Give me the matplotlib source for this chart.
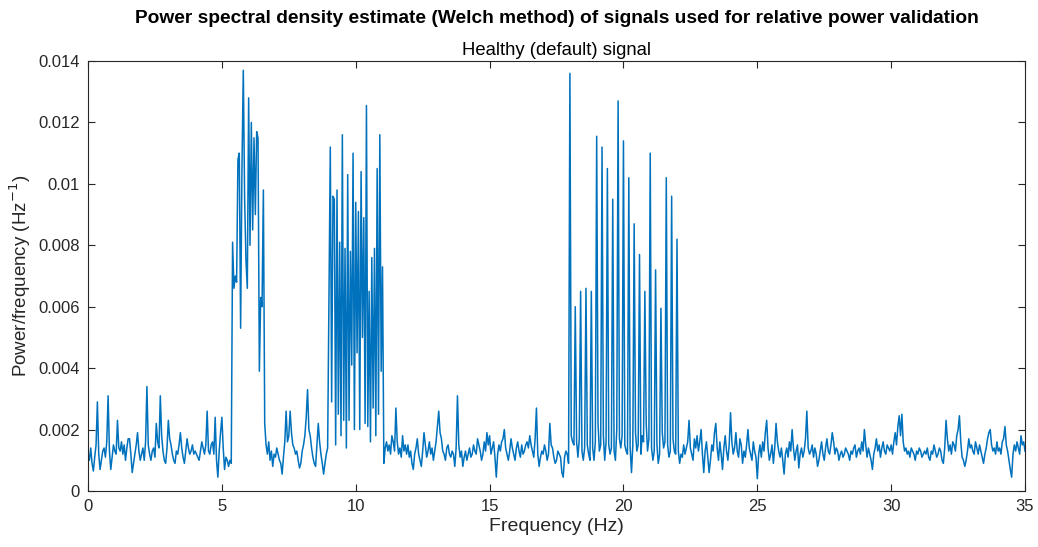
import numpy as np
import matplotlib
matplotlib.use("Agg")
import matplotlib.pyplot as plt

# PSD values, in units of 1e-3 Hz^-1,
# sampled every 0.05 Hz; one row = 1 Hz
df = 0.05
psd_0_5 = [
    1.2, 1.0, 1.4, 0.9, 0.65, 1.1, 1.5, 2.9, 1.2, 0.7, 1.0, 1.3, 1.4, 1.1, 1.6, 3.1, 1.3, 0.7, 1.1, 1.5,
    1.3, 1.2, 2.3, 1.4, 1.3, 1.6, 1.2, 1.5, 1.0, 1.4, 1.7, 1.7, 1.2, 0.6, 0.9, 1.2, 1.5, 1.9, 1.3, 1.0,
    1.2, 1.4, 1.0, 1.6, 3.4, 1.5, 1.2, 1.0, 1.3, 1.4, 1.1, 2.2, 1.6, 1.4, 3.1, 1.8, 1.3, 1.0, 0.9, 1.4,
    2.3, 1.7, 1.5, 1.2, 1.0, 0.9, 1.3, 1.2, 1.5, 1.9, 1.4, 1.1, 0.9, 1.3, 1.7, 1.4, 1.2, 1.3, 1.5, 1.2,
    1.3, 1.2, 1.1, 1.0, 1.3, 1.6, 1.4, 1.2, 1.5, 2.6, 1.3, 1.2, 1.5, 1.6, 1.2, 2.4, 1.0, 0.45, 1.3, 1.9,
]
psd_theta = [
    2.4, 1.4, 0.7, 1.1, 1.0, 0.8, 1.0, 0.9, 8.1, 6.6, 7.0, 6.8, 10.8, 11.0, 5.3, 10.5, 13.7, 9.5, 7.5, 6.6,
    12.8, 8.0, 12.0, 8.5, 11.5, 9.0, 11.7, 11.5, 3.9, 6.3, 6.0, 9.8, 2.2, 1.5, 1.2, 1.6, 1.0, 1.3, 0.8, 1.2,
]
psd_7_9 = [
    1.1, 1.4, 1.2, 1.0, 0.9, 0.55, 1.1, 1.6, 2.6, 1.6, 1.8, 2.6, 1.9, 1.5, 1.4, 1.2, 1.3, 1.0, 0.75, 0.9,
    1.3, 1.5, 1.8, 2.4, 3.3, 2.0, 1.8, 1.4, 1.1, 0.9, 0.8, 1.5, 2.2, 1.6, 1.2, 0.9, 0.55, 0.9, 1.2, 1.4,
]
psd_alpha = [
    6.2, 11.2, 2.9, 9.6, 9.5, 1.5, 9.8, 2.5, 8.1, 1.8, 11.6, 2.3, 7.9, 1.4, 10.3, 2.3, 7.8, 4.1, 11.0, 2.0,
    9.4, 4.5, 9.1, 2.0, 10.4, 5.0, 8.9, 2.2, 12.55, 2.1, 6.5, 1.6, 7.6, 2.7, 7.9, 1.8, 10.5, 2.5, 11.6, 3.9,
]
psd_11_18 = [
    7.3, 0.9, 1.4, 1.6, 1.3, 1.5, 1.2, 1.8, 1.6, 1.3, 2.7, 1.6, 1.2, 1.4, 1.1, 1.8, 1.3, 1.5, 1.2, 1.5,
    1.1, 1.3, 0.9, 0.7, 1.2, 1.4, 1.7, 1.2, 1.0, 0.8, 1.3, 1.9, 1.5, 1.1, 1.3, 1.6, 1.2, 1.4, 1.0, 1.3,
    1.6, 2.1, 2.6, 1.9, 1.7, 1.3, 1.2, 1.0, 1.4, 1.5, 1.2, 1.1, 1.3, 1.2, 0.8, 1.4, 3.1, 1.5, 1.1, 1.3,
    0.8, 1.1, 1.3, 1.0, 1.2, 1.4, 1.1, 1.2, 1.5, 1.3, 1.2, 1.7, 1.5, 1.3, 1.0, 1.2, 1.6, 1.3, 1.9, 1.5,
    1.8, 1.2, 1.4, 1.6, 1.1, 0.45, 1.2, 1.5, 1.3, 1.6, 1.7, 2.0, 1.4, 1.2, 1.0, 1.3, 1.7, 1.4, 1.2, 1.0,
    1.4, 1.6, 1.3, 1.1, 1.5, 1.2, 1.3, 1.5, 1.6, 1.4, 1.8, 1.5, 1.3, 1.1, 1.7, 2.7, 1.2, 0.8, 1.1, 1.3,
    1.2, 1.5, 1.3, 1.0, 1.2, 2.2, 1.5, 1.4, 1.1, 0.9, 1.0, 1.3, 1.2, 1.1, 0.6, 0.45, 1.1, 1.3, 1.2, 0.9,
]
psd_beta = [
    13.6, 1.8, 1.6, 1.5, 6.0, 1.6, 1.1, 1.7, 6.5, 1.3, 1.0, 1.4, 6.6, 1.5, 1.2, 1.0, 6.5, 1.4, 1.0, 1.6,
    11.55, 2.2, 1.3, 1.5, 11.2, 1.8, 1.0, 1.6, 10.5, 1.5, 1.2, 1.4, 9.5, 1.3, 1.0, 2.0, 12.7, 1.7, 1.4, 1.8,
    11.4, 1.5, 1.3, 1.2, 10.2, 1.4, 0.6, 1.5, 8.7, 1.9, 1.3, 1.5, 7.7, 1.2, 1.8, 1.6, 6.5, 2.2, 1.3, 1.7,
    11.0, 1.4, 1.0, 1.3, 7.2, 1.5, 0.9, 1.2, 5.95, 1.9, 1.4, 1.6, 10.2, 1.5, 1.1, 1.3, 9.6, 1.7, 1.3, 1.2,
]
psd_22_35 = [
    8.2, 1.3, 0.9, 1.2, 1.1, 1.5, 1.2, 1.4, 1.6, 2.3, 1.4, 1.2, 1.0, 1.7, 1.4, 1.8, 1.3, 1.6, 2.0, 1.2,
    0.6, 1.3, 1.6, 1.1, 0.6, 1.0, 1.5, 1.3, 1.9, 2.2, 1.4, 1.0, 1.6, 1.2, 0.7, 1.4, 1.8, 1.3, 1.0, 1.5,
    2.55, 1.6, 1.2, 1.4, 1.9, 1.3, 1.1, 1.7, 1.5, 0.9, 1.3, 1.1, 1.5, 2.0, 1.4, 1.2, 1.0, 1.6, 1.3, 1.1,
    0.4, 1.2, 1.5, 1.1, 1.6, 1.3, 1.9, 2.3, 1.4, 1.0, 1.2, 1.5, 0.9, 1.4, 2.2, 1.6, 1.3, 1.1, 1.4, 1.0,
    0.55, 1.2, 1.4, 1.1, 1.6, 1.3, 2.0, 1.4, 1.0, 1.3, 1.5, 0.75, 1.2, 1.4, 1.1, 1.3, 1.7, 2.6, 1.4, 1.2,
    1.3, 1.5, 1.1, 1.4, 1.2, 0.8, 1.0, 1.3, 1.6, 1.2, 1.0, 1.4, 1.7, 1.3, 1.2, 1.5, 1.9, 1.6, 1.2, 1.4,
    1.3, 1.0, 1.2, 1.3, 1.1, 1.2, 1.4, 1.3, 1.2, 1.0, 1.3, 1.2, 1.4, 1.5, 1.1, 1.3, 1.4, 1.2, 1.6, 1.3,
    2.0, 1.5, 1.1, 1.4, 1.2, 1.0, 0.7, 1.2, 1.4, 1.7, 1.3, 1.5, 1.1, 1.4, 1.6, 1.3, 1.2, 1.5, 1.4, 1.3,
    1.5, 1.2, 1.6, 1.9, 1.5, 2.1, 2.45, 1.8, 2.5, 1.6, 1.3, 1.4, 1.2, 1.3, 1.1, 1.4, 1.3, 1.2, 1.0, 1.3,
    1.2, 1.4, 1.3, 1.1, 1.2, 1.3, 1.2, 1.4, 1.1, 1.0, 1.3, 1.2, 1.5, 1.3, 1.1, 1.2, 1.4, 1.3, 1.0, 0.9,
    1.4, 2.3, 1.7, 1.3, 1.5, 1.2, 1.6, 1.5, 1.3, 1.8, 2.0, 2.45, 1.6, 1.1, 1.0, 0.8, 1.0, 1.3, 1.7, 1.4,
    1.5, 1.3, 1.2, 1.6, 1.4, 1.2, 1.5, 1.3, 1.1, 0.9, 1.2, 1.4, 1.7, 1.9, 2.0, 1.5, 1.3, 1.4, 1.2, 1.6,
    1.3, 1.4, 1.2, 1.6, 1.7, 2.1, 1.5, 1.3, 1.0, 0.7, 0.45, 1.2, 1.5, 1.3, 1.6, 1.4, 1.2, 1.8, 1.5, 1.6,
    1.3,
]

psd = np.array(psd_0_5 + psd_theta + psd_7_9 + psd_alpha + psd_11_18 + psd_beta + psd_22_35) * 1e-3
freq = np.arange(len(psd)) * df

plt.rcParams['font.family'] = ['Liberation Sans', 'DejaVu Sans']
fig = plt.figure(figsize=(10.38, 5.47), dpi=100)
ax = fig.add_axes([0.0848, 0.1024, 0.9027, 0.786])

ax.plot(freq, psd, color='#0072BD', lw=1.1)

ax.set_xlim(0, 35)
ax.set_ylim(0, 0.014)
ax.set_xticks(np.arange(0, 36, 5))
ax.set_yticks(np.arange(0, 0.0141, 0.002))
ax.set_yticklabels(['0', '0.002', '0.004', '0.006', '0.008', '0.01', '0.012', '0.014'])

gray = '#262626'
for s in ax.spines.values():
    s.set_color(gray)
    s.set_linewidth(0.8)
ax.tick_params(direction='in', top=True, right=True, length=5, width=0.8,
               colors=gray, labelsize=12, pad=6)

ax.set_xlabel('Frequency (Hz)', fontsize=14, color=gray, labelpad=3)
ax.set_ylabel('Power/frequency (Hz$^{-1}$)', fontsize=13.5, color=gray, labelpad=4)
ax.set_title('Healthy (default) signal', fontsize=13.3, color='black', pad=4)
ax.text(0.5, 1.098, 'Power spectral density estimate (Welch method) of signals used for relative power validation',
        transform=ax.transAxes, ha='center', va='center', fontsize=13.8, fontweight='bold')

fig.savefig('out.png', dpi=100)
